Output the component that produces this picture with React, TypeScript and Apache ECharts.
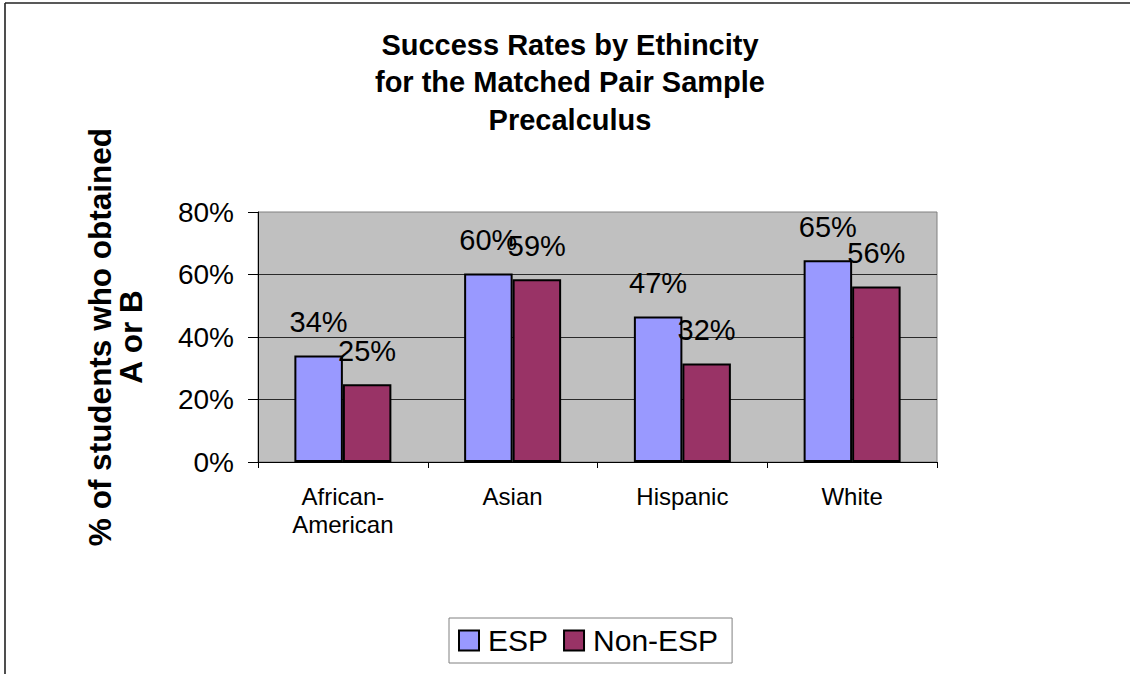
import React, { useEffect, useRef } from "react";
import * as echarts from "echarts";

// Chart content
const titleLines = ["Success Rates by Ethincity", "for the Matched Pair Sample", "Precalculus"];
const yAxisTitle = "% of students who obtained\nA or B";
const categories = ["African-\nAmerican", "Asian", "Hispanic", "White"];
const seriesNames = ["ESP", "Non-ESP"];
const espRates = [34.1, 60.3, 46.6, 64.6];
const nonEspRates = [24.9, 58.5, 31.5, 56.2];
const yMin = 0;
const yMax = 80;
const yStep = 20;

const FONT = "'Liberation Sans', Arial, Helvetica, sans-serif";

export default function App() {
  const ref = useRef<HTMLDivElement>(null);

  useEffect(() => {
    if (!ref.current) return;
    const chart = echarts.init(ref.current, null, { renderer: "svg" });

    const labelStyle = {
      show: true,
      position: "top" as const,
      distance: 19,
      fontFamily: FONT,
      fontSize: 29,
      color: "#000",
      formatter: (p: any) => `${Math.round(p.value)}%`,
    };

    chart.setOption({
      animation: false,
      backgroundColor: "#fff",
      textStyle: { fontFamily: FONT },
      title: {
        text: titleLines.join("\n"),
        left: 565,
        top: 21,
        textAlign: "center",
        textStyle: {
          fontFamily: FONT,
          fontSize: 29,
          fontWeight: "bold",
          color: "#000",
          lineHeight: 37.5,
        },
      },
      // outer chart frame (top and left edges)
      graphic: [
        {
          type: "line",
          shape: { x1: 5, y1: 3, x2: 1140, y2: 3 },
          style: { stroke: "#222", lineWidth: 1.6 },
          silent: true,
        },
        {
          type: "line",
          shape: { x1: 5, y1: 3, x2: 5, y2: 674 },
          style: { stroke: "#222", lineWidth: 1.6 },
          silent: true,
        },
      ],
      grid: {
        left: 258,
        top: 212,
        right: 203,
        bottom: 212,
        show: true,
        backgroundColor: "#C0C0C0",
        borderColor: "#808080",
        borderWidth: 1,
      },
      legend: {
        data: seriesNames,
        left: 449,
        top: 618,
        orient: "horizontal",
        itemWidth: 20,
        itemHeight: 20,
        itemGap: 15,
        padding: [7, 14, 7, 9],
        borderColor: "#808080",
        borderWidth: 1,
        backgroundColor: "#fff",
        icon: "rect",
        textStyle: {
          fontFamily: FONT,
          fontSize: 30,
          color: "#000",
          padding: [0, 0, 0, 4],
          lineHeight: 31,
        },
      },
      xAxis: {
        type: "category",
        data: categories,
        axisLine: { lineStyle: { color: "#000", width: 1 } },
        axisTick: { show: true, length: 6, lineStyle: { color: "#000" } },
        axisLabel: {
          fontFamily: FONT,
          fontSize: 24,
          color: "#000",
          lineHeight: 28,
          margin: 20,
        },
      },
      yAxis: {
        type: "value",
        min: yMin,
        max: yMax,
        interval: yStep,
        name: yAxisTitle,
        nameLocation: "middle",
        nameGap: 112,
        nameTextStyle: {
          fontFamily: FONT,
          fontSize: 31.5,
          fontWeight: "bold",
          color: "#000",
          lineHeight: 31,
        },
        axisLine: { show: true, lineStyle: { color: "#000", width: 1 } },
        axisTick: { show: true, length: 10, lineStyle: { color: "#000" } },
        axisLabel: {
          formatter: "{value}%",
          fontFamily: FONT,
          fontSize: 28,
          color: "#000",
          margin: 24,
        },
        splitLine: {
          show: true,
          showMaxLine: false,
          lineStyle: { color: "#2a2a2a", width: 1 },
        },
      },
      series: [
        {
          name: seriesNames[0],
          type: "bar",
          data: espRates,
          barWidth: 48.5,
          barGap: "0%",
          itemStyle: { color: "#9999FF", borderColor: "#000", borderWidth: 2 },
          label: labelStyle,
        },
        {
          name: seriesNames[1],
          type: "bar",
          data: nonEspRates,
          barWidth: 48.5,
          barGap: "0%",
          itemStyle: { color: "#993366", borderColor: "#000", borderWidth: 2 },
          label: labelStyle,
        },
      ],
    });

    return () => chart.dispose();
  }, []);

  return (
    <div
      ref={ref}
      style={{ position: "fixed", left: 0, top: 0, width: 1140, height: 674, background: "#fff" }}
    />
  );
}
